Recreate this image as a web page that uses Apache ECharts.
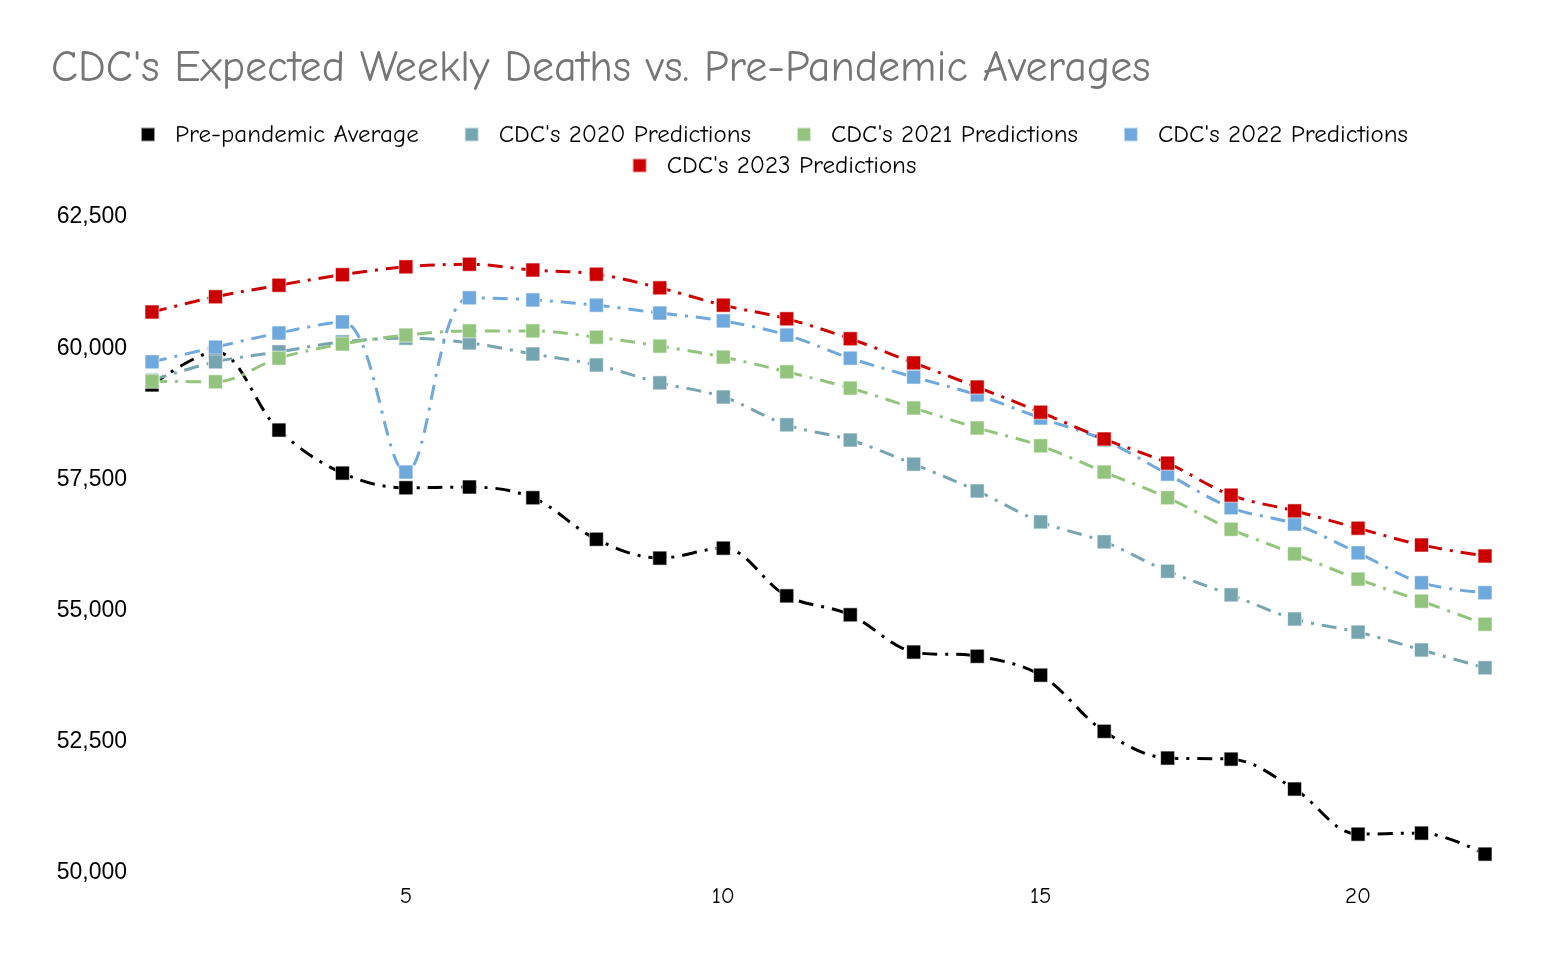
<!DOCTYPE html>
<html>
<head>
<meta charset="utf-8">
<script src="https://cdn.jsdelivr.net/npm/echarts@6/dist/echarts.min.js"></script>
<style>html,body{margin:0;padding:0;background:#fff}#c{width:1548px;height:958px}</style>
</head>
<body>
<div id="c"></div>
<script>
const weeks = [1,2,3,4,5,6,7,8,9,10,11,12,13,14,15,16,17,18,19,20,21,22];
const xTicks = [5,10,15,20];
const seriesNames = ["Pre-pandemic Average","CDC's 2020 Predictions","CDC's 2021 Predictions","CDC's 2022 Predictions","CDC's 2023 Predictions"];
const prePandemic = [59300,59930,58440,57620,57340,57355,57150,56360,56000,56190,55280,54920,54210,54130,53770,52700,52190,52170,51600,50740,50760,50360];
const cdc2020 = [59390,59740,59930,60120,60190,60100,59890,59680,59340,59070,58540,58250,57790,57280,56690,56310,55750,55300,54840,54590,54250,53910];
const cdc2021 = [59370,59360,59810,60080,60250,60330,60330,60210,60040,59830,59550,59240,58860,58480,58140,57640,57150,56550,56080,55600,55180,54740];
const cdc2022 = [59740,60020,60290,60500,57640,60960,60920,60820,60670,60520,60250,59810,59450,59110,58670,58250,57600,56960,56650,56100,55530,55340];
const cdc2023 = [60690,60980,61200,61400,61550,61600,61490,61410,61150,60820,60560,60180,59720,59260,58780,58270,57810,57200,56900,56570,56250,56040];
const colors = ['#000000','#76a5af','#93c47d','#6fa8dc','#cc0000'];
const allData = [prePandemic, cdc2020, cdc2021, cdc2022, cdc2023];
const comic = "'Comic Sans MS','Comic Neue','Open Sans',sans-serif";

const legendBase = {
  left: 'center', orient: 'horizontal',
  icon: 'rect', itemWidth: 14, itemHeight: 14, itemGap: 45,
  textStyle: {fontFamily: comic, fontSize: 25, color: '#000', padding: [0,0,0,15]}
};

const chart = echarts.init(document.getElementById('c'));
chart.setOption({
  animation: false,
  backgroundColor: '#ffffff',
  color: colors,
  title: {
    text: "CDC's Expected Weekly Deaths vs. Pre-Pandemic Averages",
    left: 46, top: 42,
    textStyle: {fontFamily: comic, fontSize: 44, fontWeight: 'normal', color: '#757575'}
  },
  legend: [
    Object.assign({}, legendBase, {top: 117, data: seriesNames.slice(0, 4)}),
    Object.assign({}, legendBase, {top: 148, data: seriesNames.slice(4)})
  ],
  grid: {left: 152, right: 63, top: 217, bottom: 85, containLabel: false},
  xAxis: {
    type: 'value', min: 1, max: 22,
    axisLine: {show: false}, axisTick: {show: false}, splitLine: {show: false},
    axisLabel: {customValues: xTicks, margin: 12, fontFamily: comic, fontSize: 23, color: '#000'}
  },
  yAxis: {
    type: 'value', min: 50000, max: 62500, interval: 2500,
    axisLine: {show: false}, axisTick: {show: false}, splitLine: {show: false},
    axisLabel: {margin: 25, fontFamily: "'Liberation Sans',Arial,sans-serif", fontSize: 23, color: '#000',
      formatter: v => v.toLocaleString('en-US')}
  },
  series: seriesNames.map((n, i) => ({
    name: n, type: 'line', smooth: 0.35,
    data: weeks.map((w, j) => [w, allData[i][j]]),
    symbol: 'rect', symbolSize: 14,
    lineStyle: {width: 3, color: colors[i], type: [15, 8, 3, 8]},
    itemStyle: {color: colors[i], borderColor: 'rgba(255,255,255,0.6)', borderWidth: 1}
  }))
});
</script>
</body>
</html>
